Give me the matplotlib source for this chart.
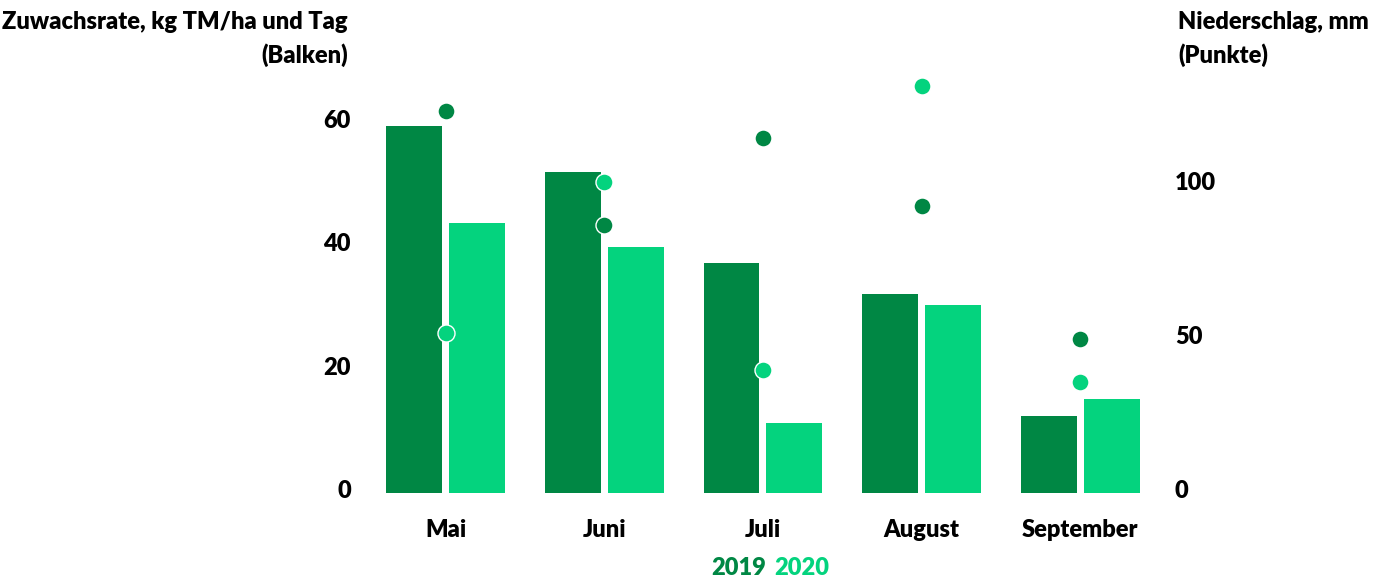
import matplotlib
import numpy as np

matplotlib.use("Agg")
import matplotlib.pyplot as plt
from matplotlib.transforms import ScaledTranslation

# Daten
months = ["Mai", "Juni", "Juli", "August", "September"]
growth_2019 = [59.5, 52.0, 37.3, 32.3, 12.5]
growth_2020 = [43.8, 39.9, 11.3, 30.5, 15.2]
rain_2019 = [124, 87, 115, 93, 50]
rain_2020 = [52, 101, 40, 132, 36]
left_ticks = [0, 20, 40, 60]
right_ticks = [0, 50, 100]
years = ["2019", "2020"]

DARK = "#008744"
LIGHT = "#04D37E"
FS = 17
WEIGHT = "heavy"


def main() -> None:
    plt.rcParams["font.family"] = ["Lato", "DejaVu Sans"]
    plt.rcParams["font.weight"] = WEIGHT

    fig = plt.figure(figsize=(13.87, 5.78), dpi=100)
    ax = fig.add_axes([0.264, 0.147, 0.572, 0.747])
    ax2 = ax.twinx()

    x = np.arange(len(months))
    width = 0.352
    offset = 0.198
    ax.bar(x - offset, growth_2019, width, color=DARK, zorder=2)
    ax.bar(x + offset, growth_2020, width, color=LIGHT, zorder=2)

    ax2.scatter(x, rain_2019, s=150, color=DARK, edgecolors="white", linewidths=1.0, zorder=3)
    ax2.scatter(x, rain_2020, s=150, color=LIGHT, edgecolors="white", linewidths=1.0, zorder=4)

    ax.set_xlim(-0.5, len(months) - 0.5)
    ax.set_ylim(0, 70)
    ax2.set_ylim(0, 140)
    ax.set_yticks(left_ticks)
    ax2.set_yticks(right_ticks)
    ax.set_xticks(x)
    ax.set_xticklabels(months)

    for axis in (ax, ax2):
        for side in ("top", "right", "left", "bottom"):
            axis.spines[side].set_visible(False)
        axis.tick_params(length=0, labelsize=FS)
    ax.tick_params(axis="y", pad=11)
    ax2.tick_params(axis="y", pad=11)
    ax.tick_params(axis="x", pad=19)

    # Excel setzt die Beschriftungen leicht oberhalb der Werte
    shift = ScaledTranslation(0, 4 / 100, fig.dpi_scale_trans)
    for label in ax.get_yticklabels() + ax2.get_yticklabels():
        label.set_transform(label.get_transform() + shift)

    fig.text(348 / 1387, 1 - 22 / 578, "Zuwachsrate, kg TM/ha und Tag", ha="right", va="center",
             fontsize=FS, fontweight=WEIGHT)
    fig.text(348 / 1387, 1 - 55 / 578, "(Balken)", ha="right", va="center",
             fontsize=FS, fontweight=WEIGHT)
    fig.text(1178 / 1387, 1 - 22 / 578, "Niederschlag, mm", ha="left", va="center",
             fontsize=FS, fontweight=WEIGHT)
    fig.text(1178 / 1387, 1 - 55 / 578, "(Punkte)", ha="left", va="center",
             fontsize=FS, fontweight=WEIGHT)

    fig.text(770 / 1387 - 0.003, 1 - 568 / 578, years[0], ha="right", va="center",
             fontsize=FS, fontweight=WEIGHT, color=DARK)
    fig.text(770 / 1387 + 0.003, 1 - 568 / 578, years[1], ha="left", va="center",
             fontsize=FS, fontweight=WEIGHT, color=LIGHT)

    fig.savefig("out.png", dpi=100)
    plt.close(fig)


if __name__ == "__main__":
    main()
